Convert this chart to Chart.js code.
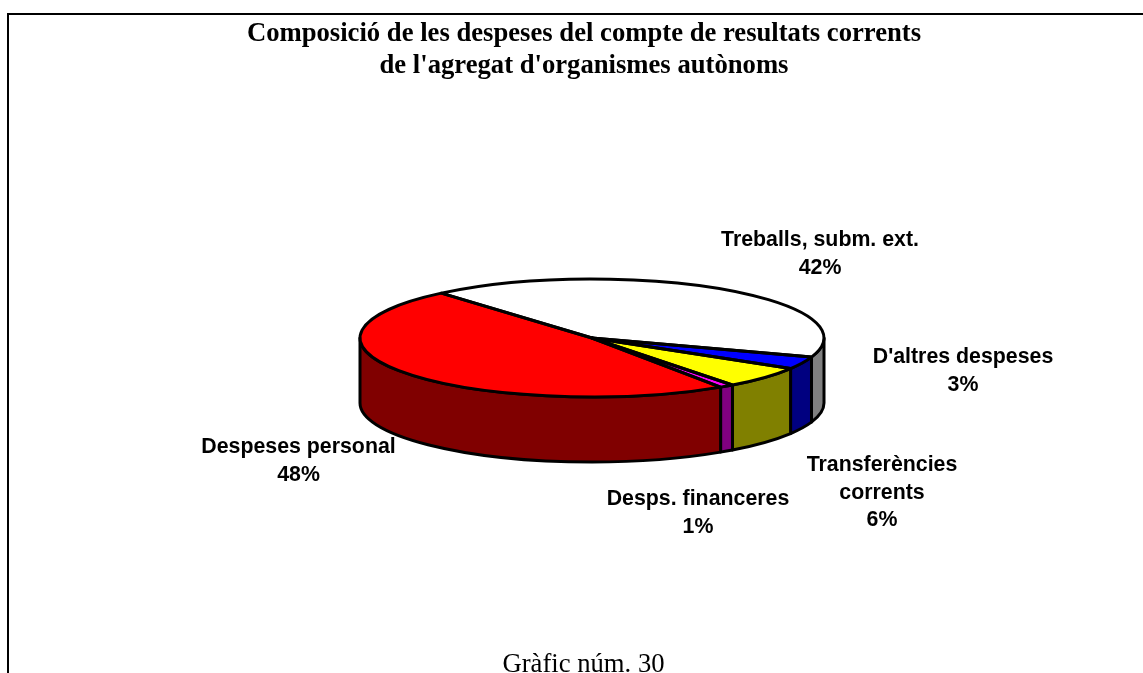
<!DOCTYPE html>
<html><head><meta charset="utf-8">
<style>html,body{margin:0;padding:0;background:#fff;overflow:hidden}#w{position:relative;width:1143px;height:673px}canvas{display:block}</style>
<script src="https://cdn.jsdelivr.net/npm/chart.js@4/dist/chart.umd.min.js"></script>
</head><body><div id="w"><canvas id="c" width="1143" height="673"></canvas></div>
<script>
const titleLines = ["Composició de les despeses del compte de resultats corrents","de l'agregat d'organismes autònoms"];
const caption = "Gràfic núm. 30";
const categories = ["Treballs, subm. ext.","D'altres despeses","Transferències corrents","Desps. financeres","Despeses personal"];
const shares = [41.5,3.4,6,1,48.1];
const topColors = ["#ffffff","#0000ff","#ffff00","#ff00ff","#ff0000"];
const sideColors = ["#808080","#000080","#808000","#800080","#800000"];
const labelLines = [["Treballs, subm. ext."],["D'altres despeses"],["Transferències","corrents"],["Desps. financeres"],["Despeses personal"]];
const labelAnchors = [[820,246],[963,363],[882,471],[698,505],[298.5,453]];
const startAngle = 319.5;
const tilt = 59/232, depth = 65;
const geom = {
  id:'pie3d',
  beforeDatasetsDraw(chart){
    const ctx = chart.ctx, arcs = chart.getDatasetMeta(0).data;
    const {x,y,outerRadius:r} = arcs[0].getProps(['x','y','outerRadius'],true);
    const ry = r*tilt;
    ctx.save();
    ctx.lineWidth = 3; ctx.strokeStyle = '#000'; ctx.lineJoin='round';
    arcs.forEach((a,i)=>{
      const p = a.getProps(['startAngle','endAngle'],true);
      for(const k of [-2,0,2]){
        const s=Math.max(p.startAngle,k*Math.PI), e=Math.min(p.endAngle,(k+1)*Math.PI);
        if(e>s){
          ctx.beginPath();
          ctx.ellipse(x,y,r,ry,0,s,e);
          ctx.lineTo(x+r*Math.cos(e),y+ry*Math.sin(e)+depth);
          ctx.ellipse(x,y+depth,r,ry,0,e,s,true);
          ctx.closePath();
          ctx.fillStyle=sideColors[i]; ctx.fill(); ctx.stroke();
        }
      }
    });
    ctx.restore();
    ctx.save();
    ctx.translate(x,y); ctx.scale(1,tilt); ctx.translate(-x,-y);
  },
  afterDatasetsDraw(chart){
    const ctx = chart.ctx, arcs = chart.getDatasetMeta(0).data;
    ctx.restore();
    const {x,y,outerRadius:r} = arcs[0].getProps(['x','y','outerRadius'],true);
    const ry=r*tilt;
    ctx.save();
    ctx.lineWidth=3; ctx.strokeStyle='#000'; ctx.lineJoin='round';
    arcs.forEach(a=>{
      const p=a.getProps(['startAngle','endAngle'],true);
      ctx.beginPath(); ctx.moveTo(x,y);
      ctx.ellipse(x,y,r,ry,0,p.startAngle,p.endAngle);
      ctx.closePath(); ctx.stroke();
    });
    ctx.restore();
    ctx.save();
    ctx.strokeStyle='#000'; ctx.lineWidth=2;
    ctx.beginPath(); ctx.moveTo(8,673); ctx.lineTo(8,14); ctx.lineTo(1143,14); ctx.stroke();
    ctx.fillStyle='#000'; ctx.textAlign='center'; ctx.textBaseline='alphabetic';
    ctx.font='bold 26.67px "Liberation Serif"';
    ctx.fillText(titleLines[0],584,41); ctx.fillText(titleLines[1],584,72.5);
    ctx.font='26.67px "Liberation Serif"';
    ctx.fillText(caption,583.5,672);
    ctx.font='bold 21.33px "Liberation Sans"';
    const total=shares.reduce((a,b)=>a+b,0);
    categories.forEach((_,i)=>{
      const ls=[...labelLines[i],Math.round(shares[i]/total*100)+'%'];
      ls.forEach((t,j)=>ctx.fillText(t,labelAnchors[i][0],labelAnchors[i][1]+j*27.5));
    });
    ctx.restore();
  }
};
new Chart(document.getElementById('c'),{
  type:'pie',
  data:{labels:categories,datasets:[{data:shares,backgroundColor:topColors,borderWidth:0,hoverOffset:0}]},
  options:{responsive:false,animation:false,rotation:startAngle,
    layout:{padding:{left:360,right:319,top:106,bottom:103}},
    plugins:{legend:{display:false},title:{display:false},tooltip:{enabled:false}}},
  plugins:[geom]
});
</script></body></html>
